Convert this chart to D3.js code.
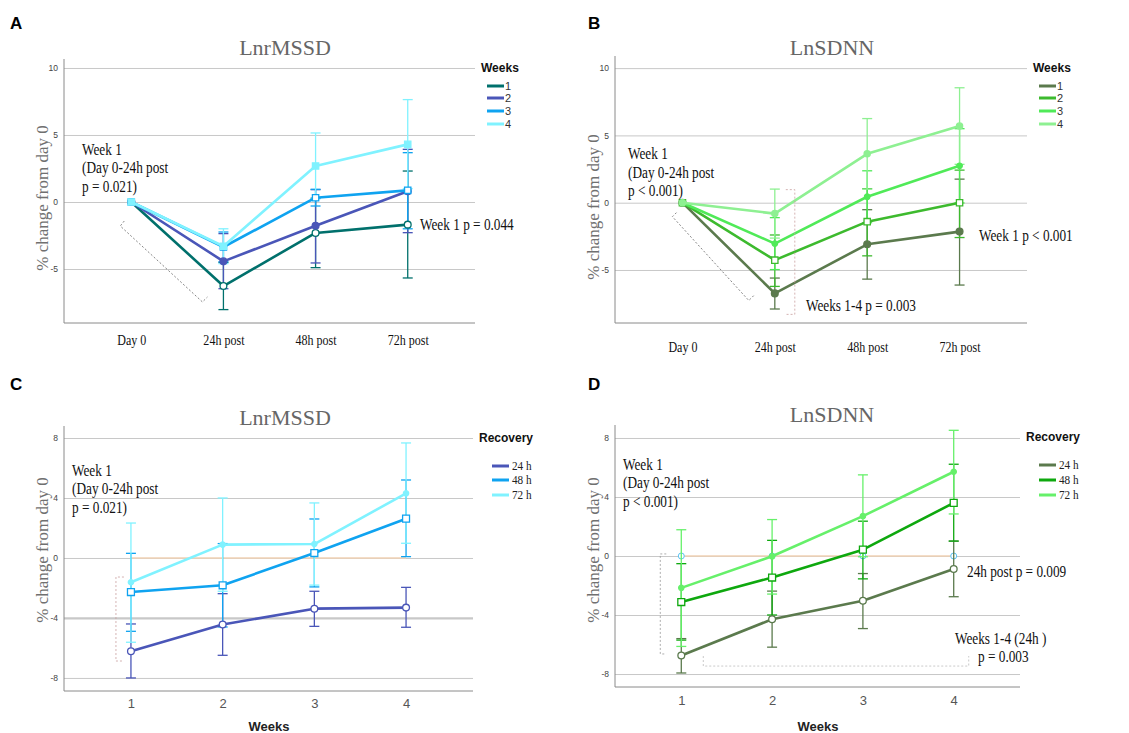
<!DOCTYPE html>
<html lang="en">
<head>
<meta charset="utf-8" />
<title>HRV change from day 0</title>
<style>
  body { margin: 0; background: #fff; }
  svg { display: block; font-family: "Liberation Sans", Arial, sans-serif; }
  .serif { font-family: "Liberation Serif", "Times New Roman", serif; }
</style>
</head>
<body>
<script src="https://cdn.jsdelivr.net/npm/d3@7"></script>
<div id="chart"></div>
<script>
// ---- data ----
const timePoints = ["Day 0", "24h post", "48h post", "72h post"];
const weekNames = ["1", "2", "3", "4"];
const weekTicks = [1, 2, 3, 4];
const recoveryNames = ["24 h", "48 h", "72 h"];
const dayZeroRef = [0, 0, 0, 0];

// A: LnrMSSD, one series per week (mean, lower and upper error bar)
const rmssdByTimeMean = [
  [0, -6.27, -2.31, -1.69],
  [0, -4.43, -1.77, 0.80],
  [0, -3.36, 0.32, 0.87],
  [0, -3.30, 2.69, 4.30]
];
const rmssdByTimeLow = [
  [0, -8.03, -4.90, -5.67],
  [0, -6.47, -4.55, -2.29],
  [0, -4.46, -0.30, -2.00],
  [0, -4.60, 0.23, 1.00]
];
const rmssdByTimeHigh = [
  [0, -4.51, 0.28, 2.31],
  [0, -2.36, 0.92, 3.93],
  [0, -2.24, 0.95, 3.68],
  [0, -2.00, 5.15, 7.64]
];

// B: LnSDNN, one series per week
const sdnnByTimeMean = [
  [0, -6.74, -3.09, -2.15],
  [0, -4.27, -1.41, 0.00],
  [0, -3.04, 0.44, 2.74],
  [0, -0.81, 3.63, 5.70]
];
const sdnnByTimeLow = [
  [0, -7.90, -5.68, -6.12],
  [0, -6.22, -3.95, -2.59],
  [0, -4.97, -1.49, -0.02],
  [0, -2.63, 1.01, 2.85]
];
const sdnnByTimeHigh = [
  [0, -5.60, -0.52, 1.75],
  [0, -2.40, 1.04, 2.42],
  [0, -1.11, 2.37, 5.50],
  [0, 1.01, 6.25, 8.54]
];

// C: LnrMSSD, one series per recovery time
const rmssdByWeekMean = [
  [-6.22, -4.44, -3.38, -3.31],
  [-2.27, -1.82, 0.33, 2.62],
  [-1.62, 0.89, 0.93, 4.31]
];
const rmssdByWeekLow = [
  [-8.00, -6.49, -4.56, -4.62],
  [-4.89, -4.60, -1.93, 0.09],
  [-5.62, -2.22, -1.81, 0.98]
];
const rmssdByWeekHigh = [
  [-4.40, -2.38, -2.22, -1.96],
  [0.31, 0.96, 2.60, 5.20],
  [2.33, 4.00, 3.67, 7.67]
];

// D: LnSDNN, one series per recovery time
const sdnnByWeekMean = [
  [-6.74, -4.29, -3.03, -0.88],
  [-3.12, -1.46, 0.43, 3.60],
  [-2.16, -0.02, 2.70, 5.71]
];
const sdnnByWeekLow = [
  [-7.93, -6.18, -4.92, -2.76],
  [-5.70, -4.00, -1.55, 1.01],
  [-6.13, -2.58, -0.05, 2.85]
];
const sdnnByWeekHigh = [
  [-5.60, -2.38, -1.19, 1.01],
  [-0.52, 1.06, 2.36, 6.22],
  [1.78, 2.47, 5.50, 8.52]
];

const blues = ["#00706c", "#4a56b8", "#0fa3f0", "#80f2ff"];
const greens = ["#5b7a4d", "#3dba2e", "#50ea58", "#8ef092"];

const svg = d3.select("#chart").append("svg")
  .attr("width", 1129).attr("height", 733);

// squished serif text like the exported figure
function note(g, x, y, str, size, fill) {
  g.append("text")
    .attr("class", "serif")
    .attr("transform", `translate(${x},${y}) scale(0.83,1)`)
    .attr("font-size", size || 16)
    .attr("fill", fill || "#111")
    .text(str);
}

function drawPanel(p) {
  const g = svg.append("g");
  const x = d3.scalePoint().domain(p.xDomain).range([p.left, p.right]).padding(0.73);
  const y = d3.scaleLinear().domain(p.yDomain).range([p.bottom, p.top]);

  // gridlines + y tick labels
  g.append("g")
    .attr("transform", `translate(${p.left},0)`)
    .call(d3.axisLeft(y).tickValues(p.yTicks).tickFormat(d => String(d))
      .tickSize(-(p.right - p.left)).tickPadding(6))
    .call(a => a.select(".domain").remove())
    .call(a => a.selectAll("line").attr("stroke", "#c8c8c8")
      .attr("stroke-width", d => (d === p.thickGrid ? 2.2 : 1)))
    .call(a => a.selectAll("text").attr("font-size", 8.5).attr("fill", "#444")
      .attr("font-family", "Liberation Sans, Arial, sans-serif"));

  // axis lines
  g.append("line").attr("x1", p.left).attr("x2", p.left).attr("y1", p.top).attr("y2", p.bottom)
    .attr("stroke", "#8a8a8a");
  g.append("line").attr("x1", p.left).attr("x2", p.right).attr("y1", p.bottom).attr("y2", p.bottom)
    .attr("stroke", "#8a8a8a");

  // x axis labels
  const xa = g.append("g")
    .attr("transform", `translate(0,${p.bottom})`)
    .call(d3.axisBottom(x).tickSize(0));
  xa.select(".domain").remove();
  xa.selectAll("text")
    .attr("dy", null)
    .attr("y", p.xLabelY - p.bottom)
    .attr("font-size", p.xLabelSize)
    .attr("fill", p.xLabelFill)
    .attr("font-family", p.xLabelSerif ? "Liberation Serif, serif" : "Liberation Sans, Arial, sans-serif")
    .attr("transform", p.xLabelSerif ? "scale(0.86,1)" : null);

  if (p.xTitle) {
    g.append("text").attr("x", p.xTitleX).attr("y", 731).attr("text-anchor", "middle")
      .attr("font-size", 13).attr("font-weight", "bold").attr("fill", "#222").text(p.xTitle);
  }

  // day 0 reference line (recovery panels)
  if (p.ref) {
    g.append("path")
      .datum(p.ref)
      .attr("fill", "none")
      .attr("stroke", "#f1d2b4")
      .attr("stroke-width", 1.6)
      .attr("d", d3.line().x((d, j) => x(p.xDomain[j])).y(d => y(d)));
    if (p.refDots) {
      g.selectAll(".refdot").data(p.ref).join("circle")
        .attr("cx", (d, j) => x(p.xDomain[j])).attr("cy", d => y(d)).attr("r", 3)
        .attr("fill", "#fff").attr("stroke", "#5cc4f2").attr("stroke-width", 1);
    }
  }

  // title + y label
  g.append("text").attr("class", "serif").attr("x", p.titleX).attr("y", p.titleY)
    .attr("text-anchor", "middle").attr("font-size", 22).attr("fill", "#666").text(p.title);
  g.append("text").attr("class", "serif")
    .attr("transform", `translate(${p.yLabelX},${p.yLabelY}) rotate(-90)`)
    .attr("text-anchor", "middle").attr("font-size", 17).attr("fill", "#707070")
    .text("% change from day 0");

  // error bars
  p.means.forEach((m, i) => {
    const pts = p.xDomain.map((d, j) => ({ k: d, lo: p.low[i][j], hi: p.high[i][j] }))
      .filter(d => d.hi !== d.lo);
    const eg = g.append("g").attr("stroke", p.colors[i]).attr("stroke-width", 1.3);
    eg.selectAll(".v").data(pts).join("line")
      .attr("x1", d => x(d.k)).attr("x2", d => x(d.k))
      .attr("y1", d => y(d.lo)).attr("y2", d => y(d.hi));
    eg.selectAll(".lo").data(pts).join("line")
      .attr("x1", d => x(d.k) - 5).attr("x2", d => x(d.k) + 5)
      .attr("y1", d => y(d.lo)).attr("y2", d => y(d.lo));
    eg.selectAll(".hi").data(pts).join("line")
      .attr("x1", d => x(d.k) - 5).attr("x2", d => x(d.k) + 5)
      .attr("y1", d => y(d.hi)).attr("y2", d => y(d.hi));
  });

  // lines + markers
  p.means.forEach((m, i) => {
    g.append("path")
      .datum(m)
      .attr("fill", "none")
      .attr("stroke", p.colors[i])
      .attr("stroke-width", 2.6)
      .attr("stroke-linejoin", "round")
      .attr("d", d3.line().x((d, j) => x(p.xDomain[j])).y(d => y(d)));
    const mk = p.markers[i];
    const sym = d3.symbol().type(mk.shape === "square" ? d3.symbolSquare : d3.symbolCircle)
      .size(mk.size);
    g.selectAll(null).data(m).join("path")
      .attr("transform", (d, j) => `translate(${x(p.xDomain[j])},${y(d)})`)
      .attr("d", sym)
      .attr("fill", mk.hollow ? "#fff" : p.colors[i])
      .attr("stroke", p.colors[i])
      .attr("stroke-width", 1.3);
  });

  // legend
  const lg = g.append("g");
  lg.append("text").attr("x", p.legendX).attr("y", p.legendTitleY)
    .attr("font-size", 12).attr("font-weight", "bold").attr("fill", "#111").text(p.legendTitle);
  p.names.forEach((n, i) => {
    const ly = p.legendRows[i];
    lg.append("line").attr("x1", p.legendLineX).attr("x2", p.legendLineX + 17)
      .attr("y1", ly).attr("y2", ly).attr("stroke", p.colors[i]).attr("stroke-width", 3);
    if (p.legendSerif) {
      note(lg, p.legendLineX + 20, ly + 4, n, 13.5, "#222");
    } else {
      lg.append("text").attr("x", p.legendLineX + 18).attr("y", ly + 4)
        .attr("font-size", 11).attr("fill", "#333").text(n);
    }
  });

  // panel letter
  g.append("text").attr("x", p.letterX).attr("y", p.letterY)
    .attr("font-size", 17).attr("font-weight", "bold").attr("fill", "#000").text(p.letter);

  return { g, x, y };
}

const markersWeekA = [
  { shape: "circle", hollow: true, size: 36 },
  { shape: "circle", hollow: false, size: 36 },
  { shape: "square", hollow: true, size: 40 },
  { shape: "square", hollow: false, size: 40 }
];
const markersWeekB = [
  { shape: "circle", hollow: false, size: 36 },
  { shape: "square", hollow: true, size: 40 },
  { shape: "circle", hollow: false, size: 24 },
  { shape: "circle", hollow: false, size: 30 }
];
const markersRecovery = [
  { shape: "circle", hollow: true, size: 36 },
  { shape: "square", hollow: true, size: 48 },
  { shape: "circle", hollow: false, size: 22 }
];

// ---- panel A ----
const A = drawPanel({
  letter: "A", letterX: 10, letterY: 29,
  title: "LnrMSSD", titleX: 285, titleY: 55,
  xDomain: timePoints, left: 64, right: 475, top: 59, bottom: 323,
  yDomain: [-9.03, 10.67], yTicks: [-5, 0, 5, 10],
  xLabelY: 345, xLabelSize: 14, xLabelFill: "#111", xLabelSerif: true,
  yLabelX: 48, yLabelY: 198,
  means: rmssdByTimeMean, low: rmssdByTimeLow, high: rmssdByTimeHigh,
  colors: blues, markers: markersWeekA, names: weekNames,
  legendTitle: "Weeks", legendX: 481, legendTitleY: 72,
  legendLineX: 487, legendRows: [86, 98, 111, 124], legendSerif: false
});
note(A.g, 82, 155, "Week 1");
note(A.g, 82, 173, "(Day 0-24h post");
note(A.g, 82, 192, "p = 0.021)");
note(A.g, 420, 230, "Week 1 p = 0.044");
A.g.append("path")
  .attr("d", d3.line()([
    [A.x("Day 0") - 7, A.y(-1.42)], [A.x("Day 0") - 11, A.y(-1.79)],
    [A.x("24h post") - 21, A.y(-7.46)], [A.x("24h post") - 16, A.y(-7.09)]
  ]))
  .attr("fill", "none").attr("stroke", "#666").attr("stroke-width", 0.8).attr("stroke-dasharray", "2,2");

// ---- panel B ----
const B = drawPanel({
  letter: "B", letterX: 588, letterY: 29,
  title: "LnSDNN", titleX: 832, titleY: 55,
  xDomain: timePoints, left: 615, right: 1027, top: 56, bottom: 323,
  yDomain: [-8.94, 10.9], yTicks: [-5, 0, 5, 10],
  xLabelY: 352, xLabelSize: 14, xLabelFill: "#111", xLabelSerif: true,
  yLabelX: 599, yLabelY: 207,
  means: sdnnByTimeMean, low: sdnnByTimeLow, high: sdnnByTimeHigh,
  colors: greens, markers: markersWeekB, names: weekNames,
  legendTitle: "Weeks", legendX: 1033, legendTitleY: 72,
  legendLineX: 1039, legendRows: [86, 98, 111, 124], legendSerif: false
});
note(B.g, 628, 159, "Week 1");
note(B.g, 628, 178, "(Day 0-24h post");
note(B.g, 628, 196, "p < 0.001)");
note(B.g, 979, 241, "Week 1 p < 0.001");
note(B.g, 806, 311, "Weeks 1-4 p = 0.003");
B.g.append("path")
  .attr("d", d3.line()([
    [B.x("Day 0") - 6, B.y(-0.74)], [B.x("Day 0") - 10, B.y(-1.04)],
    [B.x("24h post") - 26, B.y(-7.27)], [B.x("24h post") - 21, B.y(-6.9)]
  ]))
  .attr("fill", "none").attr("stroke", "#666").attr("stroke-width", 0.8).attr("stroke-dasharray", "2,2");
B.g.append("path")
  .attr("d", d3.line()([
    [B.x("24h post") + 11, B.y(0.97)], [B.x("24h post") + 20, B.y(0.97)],
    [B.x("24h post") + 20, B.y(-8.3)], [B.x("24h post") + 11, B.y(-8.3)]
  ]))
  .attr("fill", "none").attr("stroke", "#c9a0a0").attr("stroke-width", 0.8).attr("stroke-dasharray", "2,2");

// ---- panel C ----
const C = drawPanel({
  letter: "C", letterX: 10, letterY: 390,
  title: "LnrMSSD", titleX: 285, titleY: 425,
  xDomain: weekTicks, left: 64, right: 473, top: 426, bottom: 691,
  yDomain: [-8.87, 8.8], yTicks: [-8, -4, 0, 4, 8], thickGrid: -4,
  xLabelY: 708, xLabelSize: 13, xLabelFill: "#555", xLabelSerif: false,
  xTitle: "Weeks", xTitleX: 269,
  yLabelX: 48, yLabelY: 550,
  ref: dayZeroRef, refDots: false,
  means: rmssdByWeekMean, low: rmssdByWeekLow, high: rmssdByWeekHigh,
  colors: [blues[1], blues[2], blues[3]], markers: markersRecovery, names: recoveryNames,
  legendTitle: "Recovery", legendX: 479, legendTitleY: 442,
  legendLineX: 492, legendRows: [466, 480, 495], legendSerif: true
});
note(C.g, 72, 476, "Week 1");
note(C.g, 72, 494, "(Day 0-24h post");
note(C.g, 72, 513, "p = 0.021)");
C.g.append("path")
  .attr("d", d3.line()([
    [C.x(1) - 7, C.y(-1.27)], [C.x(1) - 15, C.y(-1.27)],
    [C.x(1) - 15, C.y(-6.87)], [C.x(1) - 7, C.y(-6.87)]
  ]))
  .attr("fill", "none").attr("stroke", "#c9a0a0").attr("stroke-width", 0.8).attr("stroke-dasharray", "2,2");

// ---- panel D ----
const D = drawPanel({
  letter: "D", letterX: 588, letterY: 390,
  title: "LnSDNN", titleX: 832, titleY: 422,
  xDomain: weekTicks, left: 615, right: 1020, top: 425, bottom: 687,
  yDomain: [-8.88, 8.88], yTicks: [-8, -4, 0, 4, 8],
  xLabelY: 705, xLabelSize: 13, xLabelFill: "#555", xLabelSerif: false,
  xTitle: "Weeks", xTitleX: 818,
  yLabelX: 599, yLabelY: 550,
  ref: dayZeroRef, refDots: true,
  means: sdnnByWeekMean, low: sdnnByWeekLow, high: sdnnByWeekHigh,
  colors: [greens[0], "#0ea80e", "#66f06a"], markers: markersRecovery, names: recoveryNames,
  legendTitle: "Recovery", legendX: 1026, legendTitleY: 441,
  legendLineX: 1039, legendRows: [465, 480, 495], legendSerif: true
});
note(D.g, 623, 470, "Week 1");
note(D.g, 623, 488, "(Day 0-24h post");
note(D.g, 623, 507, "p < 0.001)");
note(D.g, 967, 577, "24h post p = 0.009");
note(D.g, 955, 644, "Weeks 1-4 (24h )");
note(D.g, 978, 662, "p = 0.003");
D.g.append("path")
  .attr("d", d3.line()([
    [D.x(1) - 15, D.y(0.14)], [D.x(1) - 21, D.y(0.14)],
    [D.x(1) - 21, D.y(-6.64)], [D.x(1) - 15, D.y(-6.64)]
  ]))
  .attr("fill", "none").attr("stroke", "#999").attr("stroke-width", 0.8).attr("stroke-dasharray", "2,2");
D.g.append("path")
  .attr("d", d3.line()([
    [D.x(1) + 22, D.y(-6.78)], [D.x(1) + 22, D.y(-7.46)],
    [D.x(4) + 15, D.y(-7.46)], [D.x(4) + 15, D.y(-6.78)]
  ]))
  .attr("fill", "none").attr("stroke", "#bbb").attr("stroke-width", 0.8).attr("stroke-dasharray", "2,2");
</script>
</body>
</html>
